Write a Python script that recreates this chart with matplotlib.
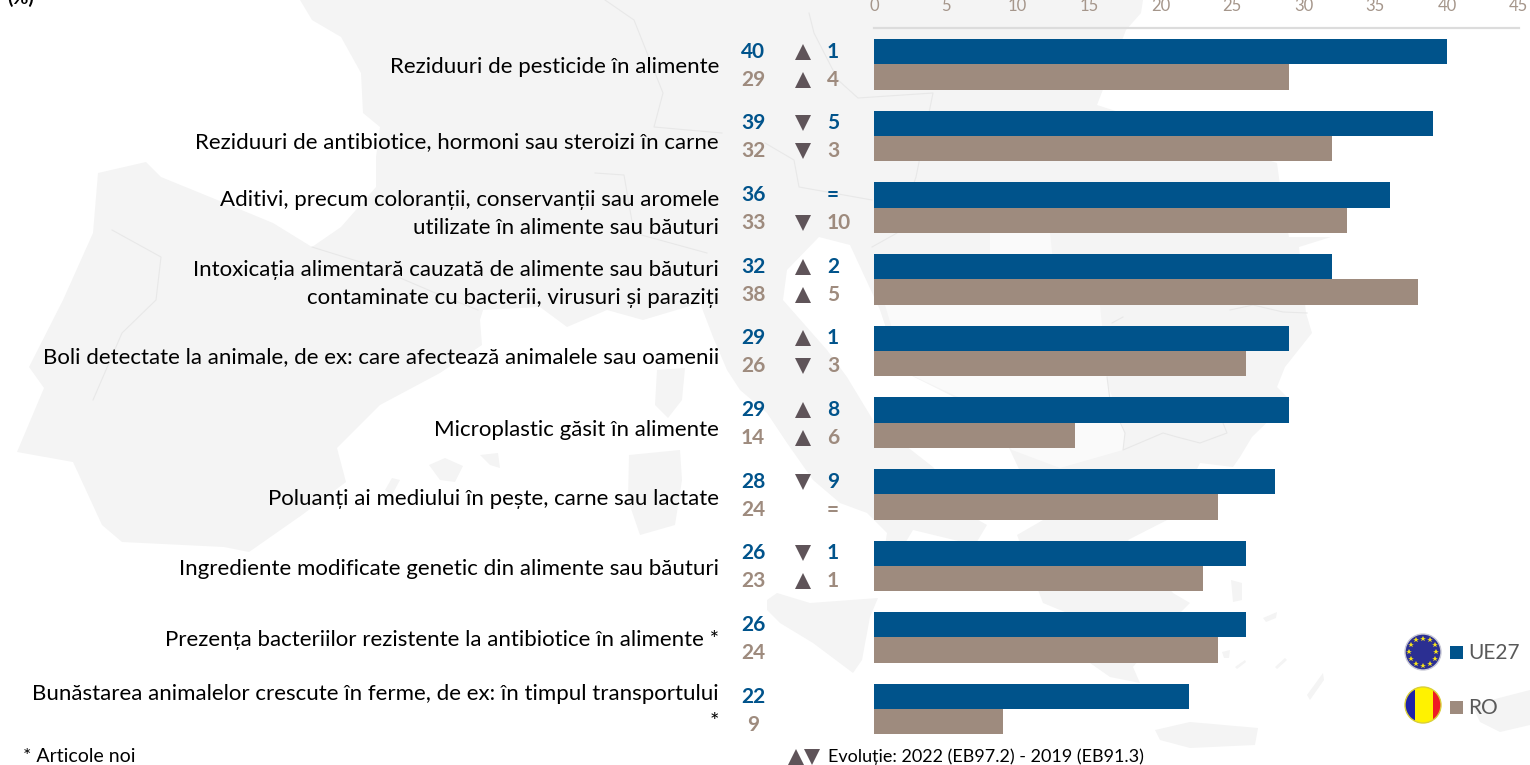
import matplotlib
matplotlib.use('Agg')
import matplotlib.pyplot as plt
import numpy as np
from matplotlib.patches import Circle, Polygon, Rectangle
from matplotlib.transforms import IdentityTransform, blended_transform_factory

plt.rcParams['font.family'] = ['Lato', 'DejaVu Sans']

labels = ['Reziduuri de pesticide în alimente',
          'Reziduuri de antibiotice, hormoni sau steroizi în carne',
          'Aditivi, precum coloranții, conservanții sau aromele\nutilizate în alimente sau băuturi',
          'Intoxicația alimentară cauzată de alimente sau băuturi\ncontaminate cu bacterii, virusuri și paraziți',
          'Boli detectate la animale, de ex: care afectează animalele sau oamenii',
          'Microplastic găsit în alimente',
          'Poluanți ai mediului în pește, carne sau lactate',
          'Ingrediente modificate genetic din alimente sau băuturi',
          'Prezența bacteriilor rezistente la antibiotice în alimente *',
          'Bunăstarea animalelor crescute în ferme, de ex: în timpul transportului\n*']
ue27 = [40, 39, 36, 32, 29, 29, 28, 26, 26, 22]
ro = [29, 32, 33, 38, 26, 14, 24, 23, 24, 9]
# change since 2019: '^' up, 'v' down, '=' same, '' new item
ue27_dir = ['^', 'v', '=', '^', '^', '^', 'v', 'v', '', '']
ue27_chg = ['1', '5', '=', '2', '1', '8', '9', '1', '', '']
ro_dir = ['^', 'v', 'v', '^', 'v', '^', '=', '^', '', '']
ro_chg = ['4', '3', '10', '5', '3', '6', '=', '1', '', '']
xticks = [0, 5, 10, 15, 20, 25, 30, 35, 40, 45]

BLUE = '#00538B'
BROWN = '#9E8B7E'
TICK = '#A5968B'
ARROW = '#5F5459'
MAP = '#F4F4F4'
MAP_LIGHT = '#FAFAFA'
LINE = '#E8E8E8'

# faint map behind the chart, in image pixels
map_shapes = [
    [(300, 0), (312, 20), (341, 37), (361, 73), (363, 113), (380, 127), (376, 157), (376, 187),
     (341, 227), (312, 247), (273, 223), (210, 197), (161, 177), (146, 162), (98, 173), (93, 233),
     (63, 300), (29, 367), (44, 388), (17, 452), (73, 462), (102, 525), (122, 542), (224, 547),
     (249, 552), (302, 515), (346, 482), (337, 448), (380, 405), (440, 373), (482, 345), (480, 320),
     (483, 310), (540, 307), (567, 327), (607, 310), (643, 320), (700, 303), (713, 337), (727, 370),
     (740, 390), (767, 413), (787, 443), (813, 480), (840, 503), (867, 513), (887, 533), (878, 590),
     (890, 590), (895, 560), (913, 530), (975, 545), (987, 525), (973, 517), (933, 467), (873, 420),
     (847, 377), (827, 350), (783, 300), (787, 270), (819, 237), (850, 245), (880, 310), (900, 370),
     (960, 400), (1000, 430), (1010, 450), (1043, 520), (1017, 535), (1043, 603), (1077, 617),
     (1090, 663), (1110, 677), (1140, 683), (1133, 667), (1173, 620), (1190, 603), (1173, 593),
     (1128, 540), (1173, 517), (1200, 463), (1233, 467), (1240, 457), (1252, 437), (1290, 400),
     (1277, 387), (1285, 367), (1312, 333), (1306, 313), (1299, 247), (1331, 237), (1289, 237),
     (1282, 200), (1277, 163), (1097, 105), (1126, 30), (1141, 13), (1143, 0)],
    [(429, 465), (445, 458), (463, 466), (455, 482), (440, 480)],
    [(480, 455), (498, 453), (500, 468), (490, 465)],
    [(385, 490), (392, 478), (400, 480), (392, 495)],
    [(657, 370), (685, 368), (682, 400), (668, 418), (655, 405)],
    [(629, 455), (680, 450), (682, 480), (675, 525), (640, 535), (628, 500)],
    [(767, 600), (777, 593), (810, 603), (878, 598), (870, 617), (862, 660), (853, 673), (813, 643),
     (780, 623), (767, 610)],
    [(1155, 730), (1190, 722), (1258, 728), (1255, 745), (1190, 748), (1160, 740)],
    [(1472, 705), (1530, 690), (1530, 725), (1500, 732), (1480, 722)],
    [(1231, 580), (1242, 583), (1242, 600), (1233, 602)],
    [(1263, 618), (1277, 612), (1276, 618), (1266, 622)],
    [(1222, 652), (1230, 650), (1229, 658), (1224, 658)],
    [(1235, 667), (1245, 660), (1246, 662), (1237, 669)],
    [(1275, 667), (1285, 658), (1287, 660), (1277, 669)],
    [(1307, 695), (1323, 673), (1324, 680), (1310, 700)],
]
map_light = [[(990, 232), (1050, 232), (1057, 300), (1100, 305), (1108, 385), (1125, 433), (1123, 450),
              (1060, 468), (1012, 450), (960, 398), (905, 372), (885, 305), (990, 305)]]
map_lines = [
    [(605, 0), (634, 20), (663, 93), (654, 127), (722, 133)],
    [(595, 173), (624, 175), (634, 233), (707, 253)],
    [(112, 230), (161, 257), (156, 300), (122, 333), (93, 400)],
    [(312, 247), (370, 265), (440, 295), (478, 310)],
    [(809, 13), (814, 33), (838, 80), (858, 98), (933, 93), (916, 177), (897, 233), (872, 247)],
    [(765, 143), (794, 160), (799, 187), (872, 200)],
    [(1107, 377), (1110, 400), (1125, 433), (1123, 450), (1163, 433), (1177, 437), (1200, 443), (1227, 433), (1223, 423)],
    [(1230, 310), (1253, 305), (1283, 312), (1307, 313)],
    [(1123, 317), (1112, 323)],
]

fig = plt.figure(figsize=(15.3, 7.65), dpi=100)

bg = fig.add_axes([0, 0, 1, 1], zorder=0)
bg.set_xlim(0, 1530)
bg.set_ylim(765, 0)
bg.axis('off')
for shape in map_shapes:
    bg.add_patch(Polygon(shape, closed=True, facecolor=MAP, edgecolor='none'))
for shape in map_light:
    bg.add_patch(Polygon(shape, closed=True, facecolor=MAP_LIGHT, edgecolor='none'))
for line in map_lines:
    bg.plot(*zip(*line), color=LINE, lw=0.8)

ax = fig.add_axes([874 / 1530, 1 - 760 / 765, 644.6 / 1530, 732 / 765], zorder=1)
ax.patch.set_visible(False)
y = np.arange(len(labels))
h = 0.354
ax.barh(y - h / 2, ue27, height=h, color=BLUE)
ax.barh(y + h / 2, ro, height=h, color=BROWN)
ax.set_xlim(0, 45)
ax.set_ylim(9.71, -0.508)
ax.set_yticks([])
ax.set_xticks(xticks)
ax.xaxis.tick_top()
ax.tick_params(axis='x', length=0, pad=10, labelsize=12, labelcolor=TICK)
for s in ['left', 'right', 'bottom']:
    ax.spines[s].set_visible(False)
ax.spines['top'].set_color('#DCDCDC')
ax.spines['top'].set_linewidth(1.6)

# x in image pixels, y in row units
tr = blended_transform_factory(IdentityTransform(), ax.transData)
label_dy = [0.04, 0.09, 0.085, 0.07, 0.09, 0.10, 0.07, 0.04, 0.03, -0.02]

for i in y:
    ax.text(719, i + label_dy[i], labels[i], transform=tr, ha='right', va='center', fontsize=16,
            color='black', linespacing=1.5)
    for off, val, d, chg, col in [(-0.175, ue27[i], ue27_dir[i], ue27_chg[i], BLUE),
                                  (0.215, ro[i], ro_dir[i], ro_chg[i], BROWN)]:
        ax.text(753, i + off, str(val), transform=tr, ha='center', va='center', fontsize=15,
                fontweight='bold', color=col)
        if d in ('^', 'v'):
            ax.plot(803, i + off, marker=d, ms=11.5, mew=0, color=ARROW, transform=tr, clip_on=False)
        if chg:
            ax.text(827, i + off, chg, transform=tr, ha='left', va='center', fontsize=15,
                    fontweight='bold', color=col)

# top and bottom notes
bg.text(7, 7, '(%)', fontsize=14, fontweight='bold', color='black', ha='left', va='bottom')
bg.text(23, 756, '* Articole noi', fontsize=14, color='black', ha='left', va='center')
bg.plot(796, 757, marker='^', ms=11.5, mew=0, color=ARROW, clip_on=False)
bg.plot(812, 757, marker='v', ms=11.5, mew=0, color=ARROW, clip_on=False)
bg.text(828, 757, 'Evoluție: 2022 (EB97.2) - 2019 (EB91.3)', fontsize=13, color='black', ha='left', va='center')

# legend with round flags
eu = Circle((1423, 652), 18, facecolor='#2B2F92', edgecolor='#C9C9D6', lw=1, zorder=3)
bg.add_patch(eu)
ang = np.arange(12) * np.pi / 6
bg.plot(1423 + 13.5 * np.cos(ang), 652 + 13.5 * np.sin(ang), ls='', marker='*', ms=4, mew=0,
        color='#F5E21B', zorder=4)

ro_flag = Circle((1423, 705), 18, facecolor='none', edgecolor='#D9CF3A', lw=1, zorder=5)
bg.add_patch(ro_flag)
for x0, w, c in [(1405, 10, '#1F22A8'), (1415, 18, '#FFF200'), (1433, 9, '#EE1C25')]:
    r = Rectangle((x0, 687), w, 36, facecolor=c, edgecolor='none', zorder=4)
    bg.add_patch(r)
    r.set_clip_path(ro_flag)

bg.add_patch(Rectangle((1450, 646), 13, 13, facecolor=BLUE, edgecolor='none'))
bg.add_patch(Rectangle((1450, 701), 13, 13, facecolor=BROWN, edgecolor='none'))
bg.text(1468, 653, 'UE27', fontsize=15, color='#595959', ha='left', va='center')
bg.text(1468, 708, 'RO', fontsize=15, color='#595959', ha='left', va='center')

fig.savefig('out.png', dpi=100)
